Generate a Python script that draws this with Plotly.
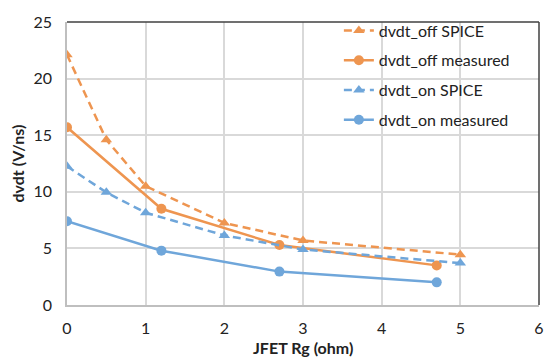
import plotly.graph_objects as go

off_spice_x = [0, 0.5, 1, 2, 3, 5]
off_spice_y = [22.1, 14.6, 10.5, 7.25, 5.7, 4.45]
off_meas_x = [0, 1.2, 2.7, 4.7]
off_meas_y = [15.7, 8.5, 5.3, 3.5]
on_spice_x = [0, 0.5, 1, 2, 3, 5]
on_spice_y = [12.25, 9.95, 8.15, 6.15, 4.9, 3.7]
on_meas_x = [0, 1.2, 2.7, 4.7]
on_meas_y = [7.4, 4.8, 2.95, 2.0]

x_title = "JFET Rg (ohm)"
y_title = "dvdt (V/ns)"

ORANGE = "#EE9550"
BLUE = "#6FA6DA"
FONT = "Lato"

fig = go.Figure()
fig.add_trace(go.Scatter(x=off_spice_x, y=off_spice_y, name="dvdt_off SPICE", mode="lines+markers",
                         legendgroup="a",
                         line=dict(color=ORANGE, width=2.5, dash="8px,5px"),
                         marker=dict(symbol="triangle-up", size=10, color=ORANGE)))
fig.add_trace(go.Scatter(x=off_meas_x, y=off_meas_y, name="dvdt_off measured", mode="lines+markers",
                         legendgroup="b",
                         line=dict(color=ORANGE, width=2.5),
                         marker=dict(symbol="circle", size=10, color=ORANGE)))
fig.add_trace(go.Scatter(x=on_spice_x, y=on_spice_y, name="dvdt_on SPICE", mode="lines+markers",
                         legendgroup="c",
                         line=dict(color=BLUE, width=2.5, dash="8px,5px"),
                         marker=dict(symbol="triangle-up", size=10, color=BLUE)))
fig.add_trace(go.Scatter(x=on_meas_x, y=on_meas_y, name="dvdt_on measured", mode="lines+markers",
                         legendgroup="d",
                         line=dict(color=BLUE, width=2.5),
                         marker=dict(symbol="circle", size=10, color=BLUE)))

fig.update_layout(
    width=546, height=354,
    margin=dict(l=59, r=15, t=6, b=57),
    paper_bgcolor="white", plot_bgcolor="white",
    font=dict(family=FONT, size=16, color="#222222"),
    showlegend=True,
    legend=dict(x=0.576, y=1.03, xanchor="left", yanchor="top",
                bgcolor="rgba(0,0,0,0)", font=dict(size=16, color="#222222"),
                tracegroupgap=6),
    xaxis=dict(range=[0, 6], dtick=1, showgrid=True, gridcolor="#D9D9D9", gridwidth=1.5,
               showline=True, linecolor="#BFBFBF", linewidth=1.5, zeroline=False,
               ticks="", ticklen=0, automargin=False, ticklabelstandoff=8),
    yaxis=dict(range=[0, 25], dtick=5, showgrid=True, gridcolor="#D9D9D9", gridwidth=1.5,
               showline=True, linecolor="#BFBFBF", linewidth=1.5, zeroline=False,
               ticks="", ticklen=0, automargin=False, ticklabelstandoff=10),
)
fig.add_annotation(text="<b>" + x_title + "</b>", xref="paper", yref="paper", x=0.5, y=0,
                   xanchor="center", yanchor="middle", yshift=-42, showarrow=False,
                   font=dict(size=16, color="#222222"))
fig.add_annotation(text="<b>" + y_title + "</b>", xref="paper", yref="paper", x=0, y=0.5,
                   xanchor="center", yanchor="middle", xshift=-50, textangle=-90, showarrow=False,
                   font=dict(size=16, color="#222222"))
fig.add_shape(type="line", xref="paper", yref="paper", x0=0, x1=1, y0=1, y1=1,
              line=dict(color="#404040", width=1.5))
fig.add_shape(type="line", xref="paper", yref="paper", x0=1, x1=1, y0=0, y1=1,
              line=dict(color="#404040", width=1.5))

fig.write_html("out.html")
